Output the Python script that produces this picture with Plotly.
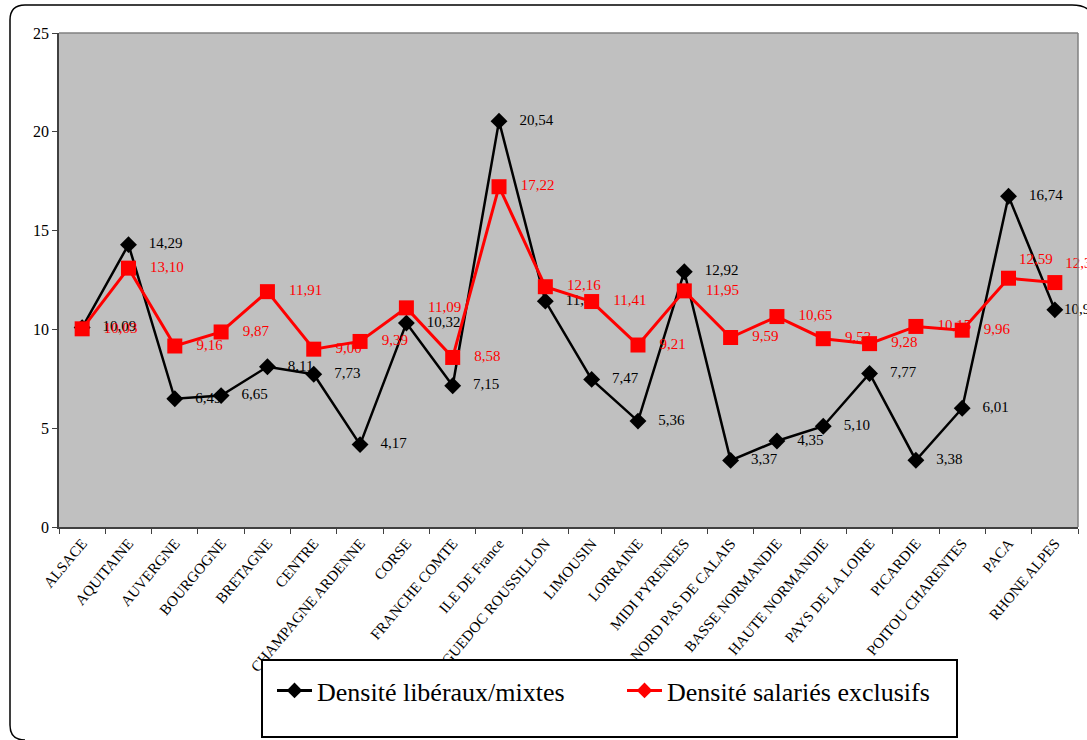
import plotly.graph_objects as go

regions = ["ALSACE", "AQUITAINE", "AUVERGNE", "BOURGOGNE", "BRETAGNE", "CENTRE",
           "CHAMPAGNE ARDENNE", "CORSE", "FRANCHE COMTE", "ILE DE France",
           "LANGUEDOC ROUSSILLON", "LIMOUSIN", "LORRAINE", "MIDI PYRENEES",
           "NORD PAS DE CALAIS", "BASSE NORMANDIE", "HAUTE NORMANDIE",
           "PAYS DE LA LOIRE", "PICARDIE", "POITOU CHARENTES", "PACA", "RHONE ALPES"]
tick_labels = ["ALSACE", "AQUITAINE", "AUVERGNE", "BOURGOGNE", "BRETAGNE", "CENTRE",
               "CHAMPAGNE ARDENNE", "CORSE", "FRANCHE COMTE", "ILE DE France",
               "LANGUEDOC ROUSSILLON", "LIMOUSIN", "LORRAINE", "MIDI PYRENEES",
               "NORD PAS DE CALAIS", "BASSE NORMANDIE", "HAUTE NORMANDIE",
               "PAYS DE LA LOIRE", "PICARDIE", "POITOU CHARENTES", "PACA", "RHONE ALPES"]
liberaux = [10.09, 14.29, 6.49, 6.65, 8.11, 7.73, 4.17, 10.32, 7.15, 20.54, 11.43,
            7.47, 5.36, 12.92, 3.37, 4.35, 5.10, 7.77, 3.38, 6.01, 16.74, 10.99]
salaries = [10.03, 13.10, 9.16, 9.87, 11.91, 9.00, 9.39, 11.09, 8.58, 17.22, 12.16,
            11.41, 9.21, 11.95, 9.59, 10.65, 9.53, 9.28, 10.15, 9.96, 12.59, 12.37]
y_ticks = [0, 5, 10, 15, 20, 25]

name_lib = "Densité libéraux/mixtes"
name_sal = "Densité salariés exclusifs"

PAD = "\u00a0\u00a0\u00a0"

def num(v):
    return f"{v:.2f}".replace(".", ",")

FONT = "Liberation Serif, Times New Roman, serif"

fig = go.Figure()
lib_text = [PAD + num(v) for v in liberaux]
lib_text[-1] = num(liberaux[-1])
fig.add_trace(go.Scatter(
    x=regions, y=liberaux, mode="lines+markers+text",
    text=lib_text, textposition="middle right",
    textfont=dict(family=FONT, size=15, color="black"),
    line=dict(color="black", width=2.5),
    marker=dict(symbol="diamond", size=13, color="black"),
    showlegend=False, cliponaxis=False))
sal_pos = ["middle right"] * len(salaries)
sal_text = [PAD + num(v) for v in salaries]
for i in (20, 21):
    sal_pos[i] = "top right"
    sal_text[i] = num(salaries[i])
fig.add_trace(go.Scatter(
    x=regions, y=salaries, mode="lines+markers+text",
    text=sal_text, textposition=sal_pos,
    textfont=dict(family=FONT, size=15, color="#FF0000"),
    line=dict(color="#FF0000", width=3),
    marker=dict(symbol="square", size=15, color="#FF0000"),
    showlegend=False, cliponaxis=False))

# legend entries
fig.add_trace(go.Scatter(x=[None], y=[None], mode="lines+markers", name=name_lib,
                         line=dict(color="black", width=3),
                         marker=dict(symbol="diamond", size=12, color="black")))
fig.add_trace(go.Scatter(x=[None], y=[None], mode="lines+markers", name=name_sal,
                         line=dict(color="#FF0000", width=3),
                         marker=dict(symbol="diamond", size=12, color="#FF0000")))

L, R, T, B = 59, 1078, 33, 527
def px(x):
    return (x - L) / (R - L)
def py(y):
    return (B - y) / (B - T)

border_path = (f"M {px(25)},{py(740)} Q {px(10)},{py(740)} {px(10)},{py(725)} "
               f"L {px(10)},{py(20)} Q {px(10)},{py(5)} {px(25)},{py(5)} "
               f"L {px(1072)},{py(5)} Q {px(1087)},{py(5)} {px(1092)},{py(14)}")

fig.update_layout(
    width=1087, height=740,
    margin=dict(l=L, r=1087 - R, t=T, b=740 - B),
    paper_bgcolor="white", plot_bgcolor="#C0C0C0",
    font=dict(family=FONT, color="black"),
    xaxis=dict(
        type="category", tickmode="array", tickvals=regions, ticktext=tick_labels,
        tickangle=-50, tickfont=dict(family=FONT, size=15, color="black"),
        tickson="boundaries", ticks="outside", ticklen=5, tickcolor="#404040",
        showline=True, linecolor="#404040", linewidth=1.5, mirror=False,
        showgrid=False, zeroline=False, range=[-0.5, len(regions) - 0.5]),
    yaxis=dict(
        range=[0, 25], tickvals=y_ticks, ticks="outside", ticklen=5,
        tickcolor="#404040", tickfont=dict(family=FONT, size=16, color="black"),
        showline=True, linecolor="#404040", linewidth=1.5,
        showgrid=False, zeroline=False),
    legend=dict(orientation="h", x=px(272), xanchor="left", y=py(667), yanchor="top",
                font=dict(family=FONT, size=26, color="black"),
                bgcolor="rgba(0,0,0,0)", entrywidth=300, itemwidth=35),
    shapes=[
        dict(type="line", xref="paper", yref="paper", x0=0, x1=1, y0=1, y1=1,
             line=dict(color="#808080", width=1.5)),
        dict(type="line", xref="paper", yref="paper", x0=1, x1=1, y0=0, y1=1,
             line=dict(color="#808080", width=1.5)),
        dict(type="rect", xref="paper", yref="paper", layer="above",
             x0=px(262), x1=px(957), y0=py(660), y1=py(737),
             line=dict(color="black", width=2), fillcolor="white"),
        dict(type="path", xref="paper", yref="paper", path=border_path,
             line=dict(color="black", width=1.5)),
    ],
)

fig.write_html("out.html", config={"displayModeBar": False},
               post_script="document.body.style.margin='0';")
